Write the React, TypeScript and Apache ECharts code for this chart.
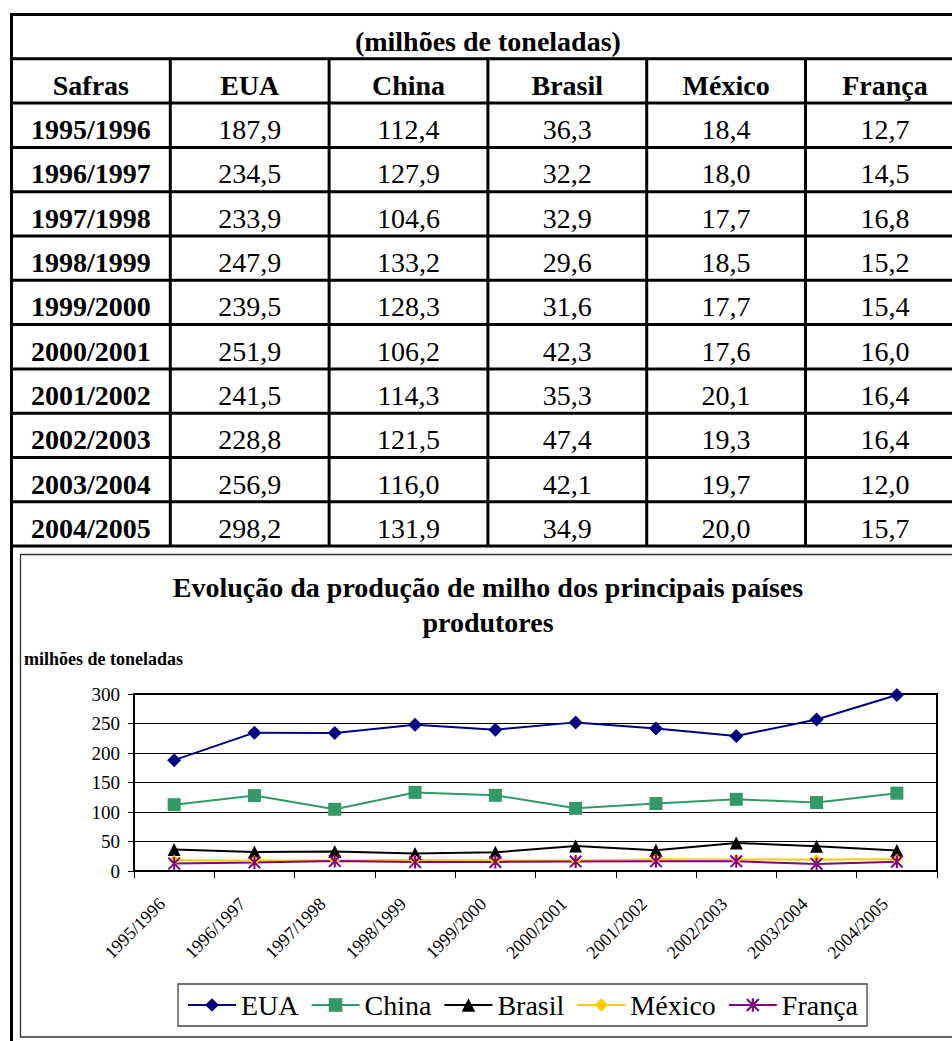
import React, { useEffect, useRef } from "react";
import * as echarts from "echarts";

// Safras (crop years) and production per country, in millions of tonnes
const safras = [
  "1995/1996", "1996/1997", "1997/1998", "1998/1999", "1999/2000",
  "2000/2001", "2001/2002", "2002/2003", "2003/2004", "2004/2005",
];
const paises = ["EUA", "China", "Brasil", "México", "França"];
const eua = [187.9, 234.5, 233.9, 247.9, 239.5, 251.9, 241.5, 228.8, 256.9, 298.2];
const china = [112.4, 127.9, 104.6, 133.2, 128.3, 106.2, 114.3, 121.5, 116.0, 131.9];
const brasil = [36.3, 32.2, 32.9, 29.6, 31.6, 42.3, 35.3, 47.4, 42.1, 34.9];
const mexico = [18.4, 18.0, 17.7, 18.5, 17.7, 17.6, 20.1, 19.3, 19.7, 20.0];
const franca = [12.7, 14.5, 16.8, 15.2, 15.4, 16.0, 16.4, 16.4, 12.0, 15.7];

const unidadeTabela = "(milhões de toneladas)";
const cabecalhoSafras = "Safras";
const tituloLinhas = ["Evolução da produção de milho dos principais países", "produtores"];
const nomeEixoY = "milhões de toneladas";
const eixoYMin = 0;
const eixoYMax = 300;
const eixoYPasso = 50;

const seriesValores = [eua, china, brasil, mexico, franca];
const coresSeries = ["#000080", "#339966", "#000000", "#FFCC00", "#800080"];

const FONT = '"Liberation Serif", "Times New Roman", serif';

// asterisk marker: vertical bar plus two diagonals
const ASTERISCO =
  "path://M8.5,0H11.5V20H8.5Z M0,2.1L2.1,0L20,17.9L17.9,20Z M17.9,0L20,2.1L2.1,20L0,17.9Z";
const simbolos = ["diamond", "rect", "triangle", "diamond", ASTERISCO];
const tamanhosSimbolo = [14, 13, 13, 11, 13];

const fmt = (v: number) => v.toFixed(1).replace(".", ",");

// table geometry
const TAB_LEFT = 11.5;
const COL_W = 158.8;
const ROW_TOP = 14.5;
const ROW_H = 44.3;
const N_COLS = 6;
const N_ROWS = 2 + safras.length;
const colX = (i: number) => TAB_LEFT + i * COL_W;
const rowY = (i: number) => ROW_TOP + i * ROW_H;

function buildTable(): any[] {
  const els: any[] = [];
  const line = (x1: number, y1: number, x2: number, y2: number, w = 3) => ({
    type: "line",
    shape: { x1, y1, x2, y2 },
    style: { stroke: "#000", lineWidth: w },
    silent: true,
  });
  const text = (t: string, x: number, y: number, bold: boolean, size = 28) => ({
    type: "text",
    x,
    y,
    style: {
      text: t,
      fill: "#000",
      fontSize: size,
      fontWeight: bold ? "bold" : "normal",
      fontFamily: FONT,
      align: "center",
      verticalAlign: "middle",
      textAlign: "center",
      textVerticalAlign: "middle",
    },
    silent: true,
  });

  // horizontal rules
  for (let r = 0; r <= N_ROWS; r++) {
    els.push(line(TAB_LEFT - 1.5, rowY(r), 980, rowY(r)));
  }
  // outer left border runs down past the chart cell
  els.push(line(TAB_LEFT, rowY(0) - 1.5, TAB_LEFT, 1045));
  // inner column rules (not in the unit row)
  for (let c = 1; c <= N_COLS; c++) {
    els.push(line(colX(c), rowY(1), colX(c), rowY(N_ROWS)));
  }

  const textOffset = 26.5;
  const centerAll = (colX(0) + colX(N_COLS)) / 2;
  els.push(text(unidadeTabela, centerAll, rowY(0) + textOffset, true));

  const headers = [cabecalhoSafras, ...paises];
  headers.forEach((h, c) => {
    els.push(text(h, colX(c) + COL_W / 2, rowY(1) + textOffset, true));
  });

  safras.forEach((s, i) => {
    const y = rowY(2 + i) + textOffset;
    els.push(text(s, colX(0) + COL_W / 2, y, true));
    seriesValores.forEach((vals, c) => {
      els.push(text(fmt(vals[i]), colX(c + 1) + COL_W / 2, y, false));
    });
  });
  return els;
}

function buildChartFrame(): any[] {
  return [
    {
      type: "rect",
      shape: { x: 20.5, y: 554.5, width: 960, height: 482.5 },
      style: { fill: "none", stroke: "#333", lineWidth: 1.3 },
      silent: true,
    },
    ...tituloLinhas.map((t, i) => ({
      type: "text",
      x: 488,
      y: 587.5 + i * 35,
      style: {
        text: t,
        fill: "#000",
        fontSize: 28,
        fontWeight: "bold",
        fontFamily: FONT,
        align: "center",
        verticalAlign: "middle",
        textAlign: "center",
        textVerticalAlign: "middle",
      },
      silent: true,
    })),
    {
      type: "text",
      x: 24,
      y: 659,
      style: {
        text: nomeEixoY,
        fill: "#000",
        fontSize: 18,
        fontWeight: "bold",
        fontFamily: FONT,
        align: "left",
        verticalAlign: "middle",
        textAlign: "left",
        textVerticalAlign: "middle",
      },
      silent: true,
    },
  ];
}

export default function App() {
  const ref = useRef<HTMLDivElement>(null);

  useEffect(() => {
    if (!ref.current) return;
    const chart = echarts.init(ref.current, undefined, { renderer: "svg" });
    chart.setOption({
      animation: false,
      backgroundColor: "#fff",
      textStyle: { fontFamily: FONT },
      graphic: { elements: [...buildTable(), ...buildChartFrame()] },
      grid: {
        left: 134,
        top: 694,
        right: 15,
        bottom: 170,
        show: true,
        borderColor: "#000",
        borderWidth: 2,
        backgroundColor: "transparent",
      },
      legend: {
        data: paises,
        left: 178,
        top: 984,
        orient: "horizontal",
        itemWidth: 48,
        itemHeight: 17,
        itemGap: 12,
        padding: [7, 9],
        borderColor: "#444",
        borderWidth: 1.3,
        backgroundColor: "#fff",
        textStyle: { fontSize: 28, color: "#000", fontFamily: FONT },
        selectedMode: false,
      },
      xAxis: {
        type: "category",
        data: safras,
        boundaryGap: true,
        axisLine: { lineStyle: { color: "#000", width: 2 } },
        axisTick: { show: true, length: 7, lineStyle: { color: "#000", width: 1 } },
        axisLabel: {
          interval: 0,
          rotate: 45,
          margin: 18,
          padding: [0, 17, 0, 0],
          fontSize: 18,
          color: "#000",
          fontFamily: FONT,
        },
        splitLine: { show: false },
      },
      yAxis: {
        type: "value",
        min: eixoYMin,
        max: eixoYMax,
        interval: eixoYPasso,
        axisLine: { show: true, lineStyle: { color: "#000", width: 2 } },
        axisTick: { show: true, length: 6, lineStyle: { color: "#000", width: 1 } },
        axisLabel: { margin: 14, fontSize: 19, color: "#000", fontFamily: FONT },
        splitLine: { show: true, lineStyle: { color: "#000", width: 1 } },
      },
      series: paises.map((nome, i) => ({
        name: nome,
        type: "line",
        data: seriesValores[i],
        symbol: simbolos[i],
        symbolSize: tamanhosSimbolo[i],
        showAllSymbol: true,
        lineStyle: { color: coresSeries[i], width: 2 },
        itemStyle: { color: coresSeries[i] },
        emphasis: { disabled: true },
      })),
    });
    return () => chart.dispose();
  }, []);

  return (
    <div
      ref={ref}
      style={{ position: "absolute", left: 0, top: 0, width: 952, height: 1041, background: "#fff" }}
    />
  );
}
